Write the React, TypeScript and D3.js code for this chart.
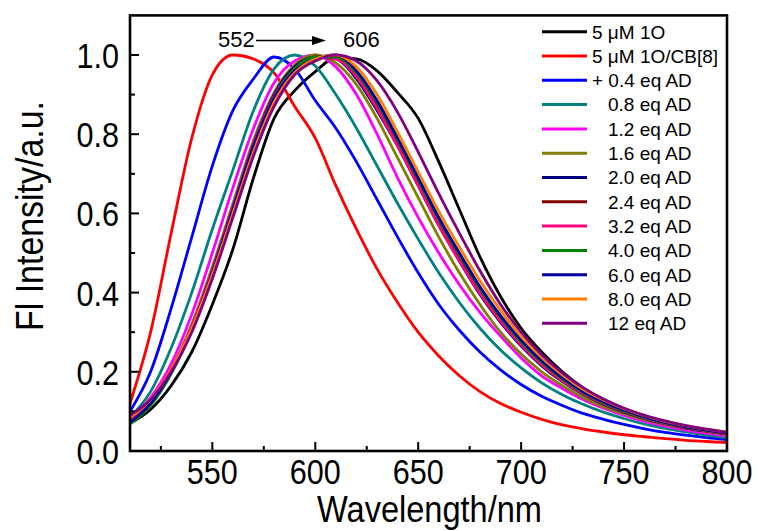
import React from "react";
import * as d3 from "d3";

const wavelengths = [510, 520, 530, 540, 550, 560, 570, 580, 590, 600, 610, 620, 630, 640, 650, 660, 670, 680, 690, 700, 710, 720, 730, 740, 750, 760, 770, 780, 790, 800];

const s1O = [0.07, 0.105, 0.165, 0.25, 0.37, 0.51, 0.69, 0.84, 0.91, 0.958, 0.993, 0.99, 0.96, 0.905, 0.84, 0.73, 0.61, 0.49, 0.39, 0.31, 0.25, 0.2, 0.16, 0.13, 0.107, 0.088, 0.073, 0.06, 0.05, 0.042];
const sCB8 = [0.12, 0.3, 0.55, 0.79, 0.95, 1.0, 0.99, 0.955, 0.87, 0.79, 0.67, 0.56, 0.46, 0.375, 0.3, 0.24, 0.19, 0.15, 0.12, 0.098, 0.08, 0.066, 0.056, 0.048, 0.041, 0.036, 0.031, 0.027, 0.024, 0.021];
const sAD04 = [0.1, 0.2, 0.36, 0.54, 0.72, 0.86, 0.94, 0.995, 0.965, 0.885, 0.815, 0.73, 0.635, 0.54, 0.45, 0.37, 0.305, 0.25, 0.205, 0.168, 0.138, 0.115, 0.095, 0.08, 0.067, 0.056, 0.047, 0.04, 0.034, 0.029];
const sAD08 = [0.085, 0.15, 0.26, 0.4, 0.56, 0.71, 0.86, 0.965, 1.0, 0.972, 0.9, 0.815, 0.72, 0.625, 0.535, 0.45, 0.375, 0.31, 0.255, 0.21, 0.172, 0.142, 0.118, 0.098, 0.082, 0.068, 0.057, 0.048, 0.04, 0.034];
const sAD12 = [0.08, 0.135, 0.22, 0.345, 0.5, 0.665, 0.815, 0.93, 0.985, 1.0, 0.97, 0.9, 0.8, 0.69, 0.59, 0.5, 0.42, 0.35, 0.29, 0.235, 0.19, 0.158, 0.13, 0.108, 0.09, 0.075, 0.063, 0.053, 0.045, 0.038];
const sAD16 = [0.075, 0.125, 0.205, 0.32, 0.465, 0.625, 0.785, 0.905, 0.975, 1.0, 0.98, 0.925, 0.84, 0.74, 0.64, 0.54, 0.45, 0.37, 0.3, 0.245, 0.2, 0.165, 0.135, 0.112, 0.094, 0.079, 0.067, 0.057, 0.049, 0.042];
const sAD20 = [0.07, 0.12, 0.2, 0.31, 0.455, 0.615, 0.775, 0.9, 0.97, 0.995, 0.99, 0.94, 0.86, 0.77, 0.67, 0.57, 0.48, 0.395, 0.325, 0.265, 0.215, 0.175, 0.143, 0.118, 0.098, 0.082, 0.069, 0.058, 0.05, 0.043];
const sAD24 = [0.072, 0.12, 0.2, 0.31, 0.45, 0.61, 0.77, 0.895, 0.965, 0.995, 0.995, 0.95, 0.87, 0.775, 0.675, 0.575, 0.485, 0.4, 0.33, 0.27, 0.22, 0.178, 0.145, 0.12, 0.1, 0.083, 0.07, 0.059, 0.051, 0.044];
const sAD32 = [0.078, 0.125, 0.205, 0.315, 0.455, 0.615, 0.775, 0.895, 0.965, 0.995, 0.99, 0.945, 0.865, 0.77, 0.67, 0.57, 0.48, 0.398, 0.328, 0.268, 0.218, 0.177, 0.145, 0.12, 0.1, 0.083, 0.07, 0.059, 0.051, 0.044];
const sAD40 = [0.068, 0.115, 0.195, 0.305, 0.445, 0.605, 0.765, 0.89, 0.965, 0.995, 0.995, 0.955, 0.88, 0.785, 0.685, 0.585, 0.495, 0.41, 0.338, 0.275, 0.224, 0.182, 0.148, 0.122, 0.101, 0.084, 0.071, 0.06, 0.052, 0.045];
const sAD60 = [0.072, 0.12, 0.2, 0.31, 0.45, 0.61, 0.77, 0.89, 0.96, 0.99, 1.0, 0.96, 0.885, 0.79, 0.69, 0.59, 0.5, 0.415, 0.342, 0.28, 0.228, 0.185, 0.15, 0.124, 0.103, 0.086, 0.072, 0.061, 0.053, 0.046];
const sAD80 = [0.085, 0.13, 0.205, 0.31, 0.445, 0.6, 0.755, 0.88, 0.955, 0.99, 1.0, 0.97, 0.9, 0.805, 0.705, 0.605, 0.515, 0.43, 0.355, 0.29, 0.236, 0.192, 0.156, 0.129, 0.107, 0.089, 0.075, 0.064, 0.055, 0.048];
const sAD120 = [0.09, 0.13, 0.2, 0.3, 0.435, 0.59, 0.745, 0.87, 0.95, 0.985, 1.0, 0.985, 0.935, 0.855, 0.755, 0.65, 0.55, 0.455, 0.37, 0.3, 0.243, 0.197, 0.16, 0.131, 0.108, 0.09, 0.076, 0.064, 0.055, 0.047];

const seriesLabels = ["5 \u03bcM 1O", "5 \u03bcM 1O/CB[8]", "+ 0.4 eq AD", "0.8 eq AD", "1.2 eq AD", "1.6 eq AD", "2.0 eq AD", "2.4 eq AD", "3.2 eq AD", "4.0 eq AD", "6.0 eq AD", "8.0 eq AD", "12 eq AD"];
const seriesValues = [s1O, sCB8, sAD04, sAD08, sAD12, sAD16, sAD20, sAD24, sAD32, sAD40, sAD60, sAD80, sAD120];
const seriesColors = ["#000000", "#ff0000", "#0000ff", "#008080", "#ff00ff", "#808000", "#000080", "#800000", "#ff0080", "#008000", "#0000a0", "#ff8000", "#800080"];

const xMajorTicks = [550, 600, 650, 700, 750, 800];
const xMinorTicks = [525, 575, 625, 675, 725, 775];
const yMajorTicks = [0, 0.2, 0.4, 0.6, 0.8, 1.0];
const yMinorTicks = [0.1, 0.3, 0.5, 0.7, 0.9];

const W = 760;
const H = 531;
const left = 130, right = 727, top = 15.4, bottom = 451;

export default function App() {
  const x = d3.scaleLinear().domain([510, 800]).range([left, right]);
  const y = d3.scaleLinear().domain([0, 1.1]).range([bottom, top]);
  const line = d3
    .line<number>()
    .x((_, i) => x(wavelengths[i]))
    .y((d) => y(d))
    .curve(d3.curveMonotoneX);

  const font = "'Liberation Sans', Arial, Helvetica, sans-serif";
  const tickSize = 36;
  const squeeze = 0.85;

  return (
    <svg width={W} height={H} style={{ position: "absolute", left: 0, top: 0 }} fontFamily={font}>
      <rect x={0} y={0} width={W} height={H} fill="#ffffff" />
      <defs>
        <clipPath id="plotclip">
          <rect x={left} y={top} width={right - left} height={bottom - top} />
        </clipPath>
      </defs>
      <g clipPath="url(#plotclip)">
        {seriesValues.map((vals, i) => (
          <path key={i} d={line(vals) || ""} fill="none" stroke={seriesColors[i]} strokeWidth={2.8} strokeLinejoin="round" />
        ))}
      </g>
      <rect x={left} y={top} width={right - left} height={bottom - top} fill="none" stroke="#000" strokeWidth={2.6} />
      {xMajorTicks.map((t) => (
        <g key={"xm" + t}>
          <line x1={x(t)} x2={x(t)} y1={bottom} y2={bottom - 9} stroke="#000" strokeWidth={2} />
          <g transform={`translate(${x(t)},${484}) scale(${squeeze},1)`}>
            <text textAnchor="middle" fontSize={tickSize} fill="#000">{t}</text>
          </g>
        </g>
      ))}
      {xMinorTicks.map((t) => (
        <line key={"xn" + t} x1={x(t)} x2={x(t)} y1={bottom} y2={bottom - 5} stroke="#000" strokeWidth={2} />
      ))}
      {yMajorTicks.map((t) => (
        <g key={"ym" + t}>
          <line x1={left} x2={left + 9} y1={y(t)} y2={y(t)} stroke="#000" strokeWidth={2} />
          <g transform={`translate(${119},${y(t) + 13}) scale(${squeeze},1)`}>
            <text textAnchor="end" fontSize={tickSize} fill="#000">{t.toFixed(1)}</text>
          </g>
        </g>
      ))}
      {yMinorTicks.map((t) => (
        <line key={"yn" + t} x1={left} x2={left + 5} y1={y(t)} y2={y(t)} stroke="#000" strokeWidth={2} />
      ))}
      <g transform={`translate(${(left + right) / 2 + 1},${522}) scale(0.88,1)`}>
        <text textAnchor="middle" fontSize={37} fill="#000">Wavelength/nm</text>
      </g>
      <g transform={`translate(${43},${216}) rotate(-90) scale(0.87,1)`}>
        <text textAnchor="middle" fontSize={39} fill="#000">Fl Intensity/a.u.</text>
      </g>
      <text x={218} y={47} fontSize={22} fill="#000">552</text>
      <line x1={256} x2={314} y1={40.5} y2={40.5} stroke="#000" strokeWidth={1.5} />
      <polygon points={`${326},${40.5} ${312},${36} ${312},${45}`} fill="#000" />
      <text x={343} y={47} fontSize={22} fill="#000">606</text>
      {seriesLabels.map((lab, i) => {
        const cy = 31.7 + i * 24.3;
        const tx = i < 3 ? 592 : 608;
        return (
          <g key={"lg" + i}>
            <line x1={542} x2={587} y1={cy} y2={cy} stroke={seriesColors[i]} strokeWidth={3} />
            <text x={tx} y={cy + 6.8} fontSize={19} fill="#000">{lab}</text>
          </g>
        );
      })}
    </svg>
  );
}
